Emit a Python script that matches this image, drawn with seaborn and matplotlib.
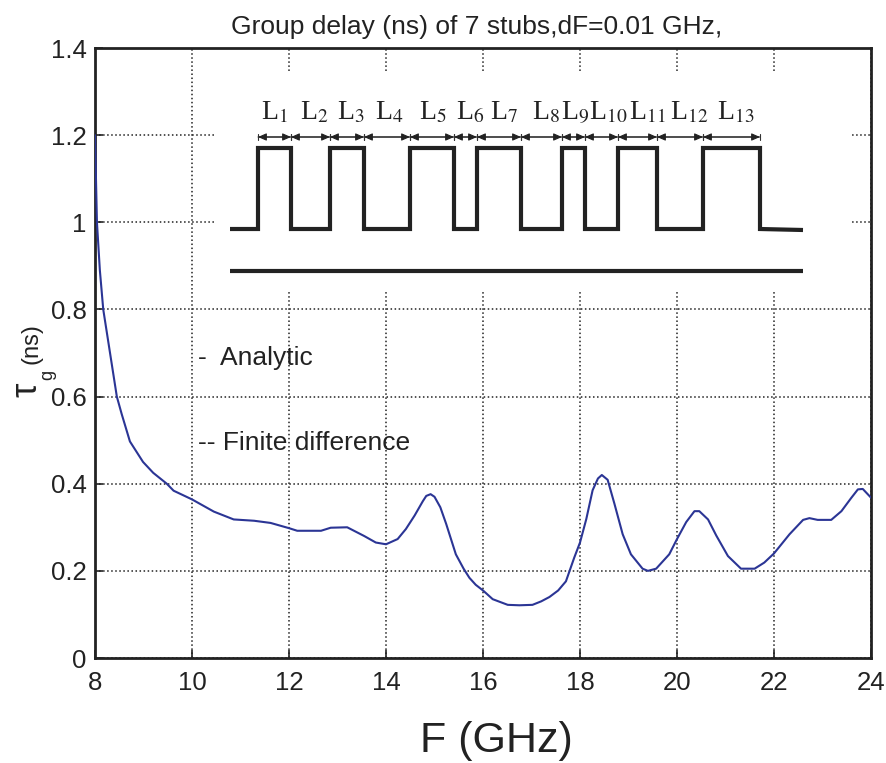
import pandas as pd
import matplotlib
matplotlib.use("Agg")
import matplotlib.pyplot as plt
import seaborn as sns

sns.set_style("ticks")
plt.rcParams['font.family'] = ['Liberation Sans', 'DejaVu Sans']

freq = [8.0, 8.02, 8.04, 8.1, 8.17, 8.31, 8.45, 8.55, 8.72, 8.99, 9.2, 9.48, 9.62, 10.0, 10.45, 10.86, 11.28, 11.62,
        12.0, 12.17, 12.66, 12.86, 13.2, 13.55, 13.79, 14.0, 14.24, 14.41, 14.59, 14.76, 14.83, 14.92, 15.0, 15.12, 15.24,
        15.44, 15.6, 15.72, 15.85, 16.0, 16.2, 16.51, 16.75, 17.02, 17.2, 17.37, 17.55, 17.71, 17.88, 18.0, 18.13, 18.26, 18.37, 18.45, 18.57, 18.71,
        18.88, 19.05, 19.29, 19.4, 19.57, 19.84, 20.0, 20.19, 20.36, 20.46, 20.64, 20.81, 21.05, 21.32, 21.6, 21.8,
        22.0, 22.32, 22.6, 22.73, 22.9, 23.18, 23.39, 23.59, 23.73, 23.83, 24.0]
delay = [1.2, 1.1, 1.0, 0.89, 0.8, 0.7, 0.6, 0.56, 0.497, 0.45, 0.425, 0.4, 0.384, 0.364, 0.336, 0.318, 0.315, 0.31,
         0.298, 0.292, 0.292, 0.299, 0.3, 0.28, 0.265, 0.261, 0.273, 0.296, 0.327, 0.36, 0.372, 0.376, 0.37, 0.346, 0.308,
         0.238, 0.205, 0.184, 0.168, 0.155, 0.135, 0.122, 0.121, 0.122, 0.13, 0.14, 0.155, 0.176, 0.23, 0.265, 0.319, 0.385, 0.412, 0.42, 0.409, 0.354,
         0.284, 0.238, 0.205, 0.2, 0.205, 0.238, 0.273, 0.312, 0.337, 0.337, 0.318, 0.281, 0.234, 0.205, 0.205, 0.219,
         0.24, 0.284, 0.317, 0.321, 0.317, 0.317, 0.337, 0.367, 0.387, 0.388, 0.368]

x_ticks = [8, 10, 12, 14, 16, 18, 20, 22, 24]
y_ticks = [0, 0.2, 0.4, 0.6, 0.8, 1, 1.2, 1.4]
y_labels = ['0', '0.2', '0.4', '0.6', '0.8', '1', '1.2', '1.4']

# stub drawing, measured in pixels of the picture
section_labels = ['1', '2', '3', '4', '5', '6', '7', '8', '9', '10', '11', '12', '13']
section_edges = [258, 291, 330, 364, 410, 454, 477, 521, 562, 585, 618, 657, 703, 760]
label_centres = [274, 314, 351, 389, 433, 470, 504, 546, 575, 608, 647, 689, 736]

df = pd.DataFrame({'F': freq, 'tau': delay})

fig = plt.figure(figsize=(8.86, 7.63), dpi=100)
ax = fig.add_axes([95 / 886, 1 - 658 / 763, 776 / 886, 610 / 763])
sns.lineplot(data=df, x='F', y='tau', ax=ax, color='#2b3595', linewidth=1.5, errorbar=None, zorder=3)

ax.set_xlim(8, 24)
ax.set_ylim(0, 1.4)
ax.set_xticks(x_ticks)
ax.set_xticklabels([str(t) for t in x_ticks])
ax.set_yticks(y_ticks)
ax.set_yticklabels(y_labels)
ax.tick_params(direction='in', length=6, width=1.2, labelsize=18.5, color='#222222', labelcolor='#222222')
ax.tick_params(axis='x', pad=9)
ax.tick_params(axis='y', pad=6)
ax.grid(True, linestyle=':', color='#222222', linewidth=1.1)
ax.set_axisbelow(True)
for s in ax.spines.values():
    s.set_linewidth(2)
    s.set_color('#222222')

ax.set_xlabel('')
ax.set_ylabel('')
fig.text(496 / 886, 1 - 741 / 763, 'F (GHz)', fontsize=31, color='#222222', ha='center', va='center')
fig.text(231 / 886, 1 - 27 / 763, 'Group delay (ns) of 7 stubs,dF=0.01 GHz,', fontsize=19, color='#222222', va='center')
fig.text(27 / 886, 1 - 390 / 763, 'τ', fontsize=26, rotation=90, color='#222222', ha='center', va='center')
fig.text(48 / 886, 1 - 375 / 763, 'g', fontsize=13, rotation=90, color='#222222', ha='center', va='center')
fig.text(32 / 886, 1 - 344 / 763, '(ns)', fontsize=17, rotation=90, color='#222222', ha='center', va='center')

ov = fig.add_axes([0, 0, 1, 1], facecolor='none')
ov.set_xlim(0, 886)
ov.set_ylim(763, 0)
ov.axis('off')
ov.fill_between([215, 852], 72, 292, color='white', lw=0)

# stepped line and ground plane
xs = [230]
ys = [229]
for i, e in enumerate(section_edges):
    xs += [e, e]
    ys += [229, 148] if i % 2 == 0 else [148, 229]
xs.append(803)
ys.append(230)
ov.plot(xs, ys, color='#222222', lw=3, solid_joinstyle='miter', solid_capstyle='butt')
ov.plot([230, 803], [270.5, 270.5], color='#222222', lw=3, solid_capstyle='butt')

for a, b in zip(section_edges[:-1], section_edges[1:]):
    ov.annotate('', xy=(a, 137), xytext=(b, 137),
                arrowprops=dict(arrowstyle='|-|,widthA=0.25,widthB=0.25', color='#333333', lw=0.8, shrinkA=0, shrinkB=0))
    ov.annotate('', xy=(a, 137), xytext=(b, 137),
                arrowprops=dict(arrowstyle='<|-|>,head_length=0.5,head_width=0.22', color='#222222', lw=0.8, shrinkA=0, shrinkB=0))

for lab, c in zip(section_labels, label_centres):
    ov.text(c, 113, 'L$_{' + lab + '}$', fontsize=20, family='Liberation Serif', math_fontfamily='stix',
            color='#222222', ha='center', va='center')

ov.text(198, 358, '-  Analytic', fontsize=19, color='#222222', va='center')
ov.text(198, 443, '-- Finite difference', fontsize=19, color='#222222', va='center')

fig.savefig('out.png', dpi=100)
